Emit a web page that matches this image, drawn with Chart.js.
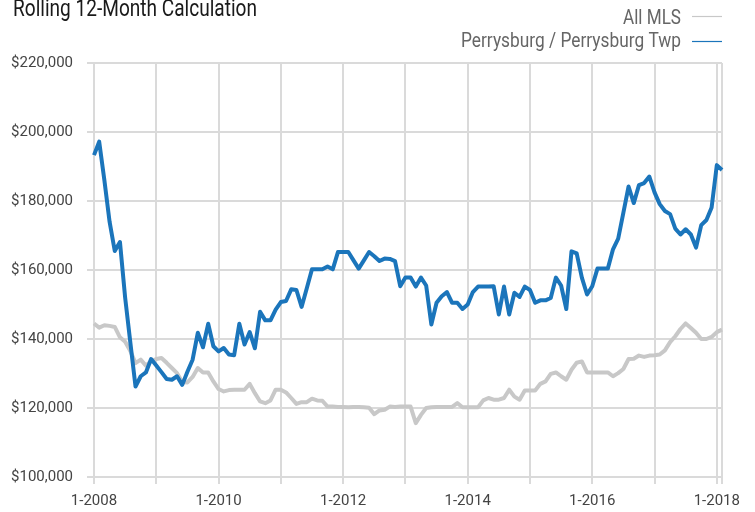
<!DOCTYPE html>
<html>
<head>
<meta charset="utf-8">
<script src="https://cdn.jsdelivr.net/npm/chart.js@4/dist/chart.umd.min.js"></script>
<style>
  html, body { margin: 0; padding: 0; background: #fff; }
</style>
</head>
<body>
<canvas id="priceChart" width="755" height="512"></canvas>
<script>
var FONT = "Roboto, 'Liberation Sans', sans-serif";

var chartTitle = 'Rolling 12-Month Calculation';
var seriesNames = ['All MLS', 'Perrysburg / Perrysburg Twp'];
var firstYear = 2008;
var tickLabels = ['1-2008', '1-2010', '1-2012', '1-2014', '1-2016', '1-2018'];
var yTicks = [100000, 120000, 140000, 160000, 180000, 200000, 220000];

// monthly values, 1-2008 .. 2-2018
var allMls = [
  144500, 143300, 144000, 143800, 143500, 140500, 139200, 136500, 133000, 134000, 132300, 133500,
  134200, 134500, 133100, 131600, 130100, 127500, 127400, 129000, 131600, 130300, 130300, 127700,
  125500, 124800, 125200, 125300, 125300, 125300, 127000, 124300, 121900, 121400, 122200, 125300,
  125300, 124500, 122900, 121200, 121700, 121700, 122700, 122200, 122100, 120400, 120400, 120300,
  120300, 120200, 120300, 120300, 120200, 120100, 118200, 119300, 119500, 120400, 120300, 120400,
  120400, 120400, 115600, 118000, 120000, 120200, 120300, 120300, 120300, 120300, 121400, 120200,
  120200, 120200, 120200, 122200, 122900, 122400, 122400, 122900, 125300, 123300, 122400, 125100,
  125100, 125100, 127000, 127700, 129900, 130300, 129200, 128200, 131100, 133100, 133500, 130300,
  130300, 130300, 130300, 130300, 129200, 130100, 131300, 134200, 134300, 135200, 134800, 135200,
  135300, 135500, 136700, 139100, 140800, 142900, 144500, 143200, 141800, 140000, 140000, 140600,
  142000, 142700
];

var perrysburg = [
  193300, 197200, 186000, 174000, 165500, 168100, 152000, 139000, 126200, 129200, 130300, 134200,
  132300, 130400, 128400, 128200, 129200, 126700, 130500, 134000, 141800, 137600, 144400, 137900,
  136400, 137400, 135500, 135300, 144400, 138400, 142000, 137300, 147900, 145400, 145400, 148500,
  150700, 151000, 154400, 154200, 149300, 154700, 160200, 160200, 160200, 161000, 160200, 165200,
  165200, 165200, 162800, 160400, 162800, 165200, 164000, 162600, 163300, 163200, 162600, 155300,
  157800, 157800, 155200, 157800, 155500, 144200, 150500, 152400, 153600, 150500, 150500, 148700,
  150000, 153600, 155200, 155200, 155200, 155300, 147100, 155200, 147100, 153400, 152200, 155200,
  154200, 150500, 151200, 151200, 151900, 157800, 155500, 148700, 165400, 164800, 157800, 152900,
  155300, 160400, 160400, 160400, 166000, 169100, 176600, 184200, 179400, 184600, 185200, 187100,
  182500, 179100, 177100, 176200, 172000, 170300, 171800, 170300, 166500, 173000, 174500, 178100,
  190400, 189000
];

var colors = ['#c8c8c8', '#1b75bb'];
var gridColor = '#dadada';

var months = [];
for (var i = 0; i < allMls.length; i++) {
  months.push((i % 12 + 1) + '-' + (firstYear + Math.floor(i / 12)));
}

// draws text squeezed to a given width (the original uses a condensed face)
function narrowText(c, text, x, y, width, align) {
  var w = c.measureText(text).width;
  c.save();
  c.translate(x, y);
  c.scale(width / w, 1);
  c.textAlign = align;
  c.fillText(text, 0, 0);
  c.restore();
}

// title and the legend (text first, line sample after it)
var headerPlugin = {
  id: 'header',
  afterDraw: function(chart) {
    var c = chart.ctx;
    c.save();
    c.textBaseline = 'alphabetic';
    c.fillStyle = '#1a1a1a';
    c.font = '24px ' + FONT;
    narrowText(c, chartTitle, 13, 16, 244, 'left');

    c.font = '21px ' + FONT;
    c.fillStyle = '#666';
    var base = [23.5, 47];
    var widths = [58, 220];
    var lineY = [16.5, 41.5];
    for (var k = 0; k < seriesNames.length; k++) {
      narrowText(c, seriesNames[k], 681, base[k], widths[k], 'right');
      c.strokeStyle = colors[k];
      c.lineWidth = 1.2;
      c.beginPath();
      c.moveTo(692, lineY[k]);
      c.lineTo(722, lineY[k]);
      c.stroke();
    }
    c.restore();
  }
};

var ctx = document.getElementById('priceChart').getContext('2d');
new Chart(ctx, {
  type: 'line',
  data: {
    labels: months,
    datasets: [{
      label: seriesNames[0],
      data: allMls,
      borderColor: colors[0],
      order: 1
    }, {
      label: seriesNames[1],
      data: perrysburg,
      borderColor: colors[1],
      order: 0
    }]
  },
  options: {
    responsive: false,
    animation: false,
    layout: { padding: { top: 63, right: 33, left: 10, bottom: 0 } },
    elements: {
      point: { radius: 0 },
      line: { tension: 0, borderWidth: 4, borderJoinStyle: 'round', fill: false }
    },
    plugins: {
      legend: { display: false },
      title: { display: false },
      tooltip: { enabled: false }
    },
    scales: {
      x: {
        border: { display: false },
        grid: {
          lineWidth: 2,
          tickLength: 7,
          color: function(c) {
            return (c.index % 12 === 0 || c.index === months.length - 1) ? gridColor : 'rgba(0,0,0,0)';
          }
        },
        ticks: {
          autoSkip: false,
          maxRotation: 0,
          minRotation: 0,
          padding: 8,
          color: '#444',
          font: { family: FONT, size: 15 },
          callback: function(val) {
            var l = this.getLabelForValue(val);
            return tickLabels.indexOf(l) >= 0 ? l : '';
          }
        },
        afterFit: function(s) { s.height = 35; }
      },
      y: {
        min: yTicks[0],
        max: yTicks[yTicks.length - 1],
        border: { display: false },
        grid: { color: gridColor, lineWidth: 2, tickLength: 7 },
        ticks: {
          stepSize: 20000,
          padding: 14,
          color: '#444',
          font: { family: FONT, size: 15 },
          callback: function(v) { return '$' + v.toLocaleString('en-US'); }
        },
        afterFit: function(s) { s.width = 84; }
      }
    }
  },
  plugins: [headerPlugin]
});
</script>
</body>
</html>
